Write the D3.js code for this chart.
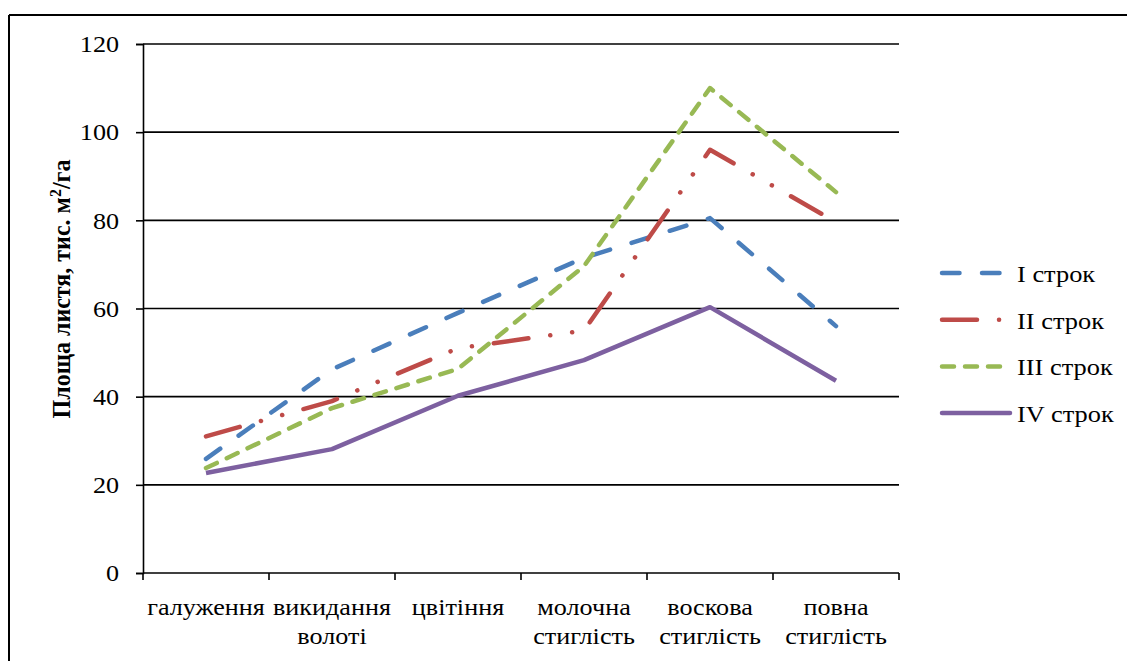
<!DOCTYPE html>
<html>
<head>
<meta charset="utf-8">
<script src="https://cdn.jsdelivr.net/npm/d3@7"></script>
<style>
  html, body { margin: 0; padding: 0; background: #fff; }
  svg { display: block; }
</style>
</head>
<body>
<svg id="chart" width="1127" height="661"></svg>
<script>
// Leaf area dynamics by growth stage for four sowing dates
const stages = [
  ["галуження"],
  ["викидання", "волоті"],
  ["цвітіння"],
  ["молочна", "стиглість"],
  ["воскова", "стиглість"],
  ["повна", "стиглість"]
];
const seriesNames = ["I строк", "II строк", "III строк", "IV строк"];
const term1 = [25.9, 46.2, 59.0, 71.5, 80.5, 56.0];
const term2 = [31.0, 39.0, 51.0, 55.0, 96.0, 79.6];
const term3 = [23.8, 37.4, 46.3, 69.6, 110.0, 86.4];
const term4 = [22.7, 28.1, 40.2, 48.3, 60.3, 43.6];
const yTicks = [0, 20, 40, 60, 80, 100, 120];

const seriesStyle = [
  { color: "#4a7ebb", dash: "17.5,22.5" },
  { color: "#be4b48", dash: "35,22,0.1,22,0.1,22" },
  { color: "#98b954", dash: "12,11" },
  { color: "#7d60a0", dash: null }
];
const seriesData = [term1, term2, term3, term4];

const svg = d3.select("#chart");
const FONT = "Liberation Serif";
const SX = 1.09; // slightly wide glyphs

// outer frame (left and top edges visible)
svg.append("line").attr("x1", 9).attr("x2", 1127).attr("y1", 15).attr("y2", 15)
  .attr("stroke", "#000").attr("stroke-width", 2);
svg.append("line").attr("x1", 9).attr("x2", 9).attr("y1", 15).attr("y2", 661)
  .attr("stroke", "#000").attr("stroke-width", 2);

const plot = { left: 143, right: 899, top: 44, bottom: 573 };

const x = d3.scaleBand()
  .domain(d3.range(stages.length))
  .range([plot.left, plot.right])
  .paddingInner(0).paddingOuter(0);
const y = d3.scaleLinear().domain([0, 120]).range([plot.bottom, plot.top]);

// horizontal gridlines
svg.append("g")
  .selectAll("line")
  .data(yTicks.filter(d => d > 0))
  .join("line")
  .attr("x1", plot.left).attr("x2", plot.right)
  .attr("y1", d => y(d)).attr("y2", d => y(d))
  .attr("stroke", "#000").attr("stroke-width", 1.6);

// y axis
const yAxis = svg.append("g")
  .attr("transform", `translate(${plot.left},0)`)
  .call(d3.axisLeft(y).tickValues(yTicks).tickSize(7).tickPadding(15));
yAxis.attr("font-family", FONT).attr("font-size", 24);
yAxis.select(".domain").attr("stroke", "#000").attr("stroke-width", 1.6);
yAxis.selectAll(".tick line").attr("stroke", "#000").attr("stroke-width", 1.6);
yAxis.selectAll(".tick text").attr("fill", "#000").attr("transform", `scale(${SX},1)`);

// x axis with ticks at category boundaries
const xg = svg.append("g");
xg.append("line")
  .attr("x1", plot.left).attr("x2", plot.right)
  .attr("y1", plot.bottom).attr("y2", plot.bottom)
  .attr("stroke", "#000").attr("stroke-width", 1.6);
const boundaries = d3.range(stages.length + 1).map(i =>
  i < stages.length ? x(i) : x(stages.length - 1) + x.bandwidth());
xg.selectAll("line.tk")
  .data(boundaries)
  .join("line")
  .attr("class", "tk")
  .attr("x1", d => d).attr("x2", d => d)
  .attr("y1", plot.bottom).attr("y2", plot.bottom + 7)
  .attr("stroke", "#000").attr("stroke-width", 1.6);

const labels = xg.selectAll("text.cat")
  .data(stages)
  .join("text")
  .attr("class", "cat")
  .attr("transform", (d, i) => `translate(${x(i) + x.bandwidth() / 2},0) scale(${SX},1)`)
  .attr("font-family", FONT).attr("font-size", 24).attr("fill", "#000")
  .attr("text-anchor", "middle");
labels.each(function(lines) {
  const t = d3.select(this);
  lines.forEach((ln, j) => {
    t.append("tspan")
      .attr("x", 0)
      .attr("y", 615 + j * 29)
      .text(ln);
  });
});

// y axis title
const yt = svg.append("text")
  .attr("transform", `translate(70,289) scale(${SX},1) rotate(-90)`)
  .attr("text-anchor", "middle")
  .attr("font-family", FONT).attr("font-size", 24).attr("font-weight", "bold")
  .attr("fill", "#000");
yt.append("tspan").text("Площа листя, тис. м");
yt.append("tspan").attr("baseline-shift", "super").attr("font-size", 16).text("2");
yt.append("tspan").text("/га");

// series lines
const line = d3.line()
  .x((d, i) => x(i) + x.bandwidth() / 2)
  .y(d => y(d));

svg.append("g")
  .selectAll("path")
  .data(seriesData)
  .join("path")
  .attr("d", d => line(d))
  .attr("fill", "none")
  .attr("stroke", (d, i) => seriesStyle[i].color)
  .attr("stroke-width", 4.5)
  .attr("stroke-linecap", (d, i) => seriesStyle[i].dash ? "round" : "butt")
  .attr("stroke-linejoin", "round")
  .attr("stroke-dasharray", (d, i) => seriesStyle[i].dash);

// legend
const legend = svg.append("g");
const legY0 = 273, legStep = 46.7;
seriesNames.forEach((name, i) => {
  const ly = legY0 + i * legStep;
  legend.append("line")
    .attr("x1", 942).attr("x2", 1010)
    .attr("y1", ly).attr("y2", ly)
    .attr("stroke", seriesStyle[i].color)
    .attr("stroke-width", 4.5)
    .attr("stroke-linecap", "round")
    .attr("stroke-dasharray", seriesStyle[i].dash);
  legend.append("text")
    .attr("transform", `translate(1017,${ly + 9}) scale(1.1,1)`)
    .attr("font-family", FONT).attr("font-size", 24).attr("fill", "#000")
    .text(name);
});
</script>
</body>
</html>
